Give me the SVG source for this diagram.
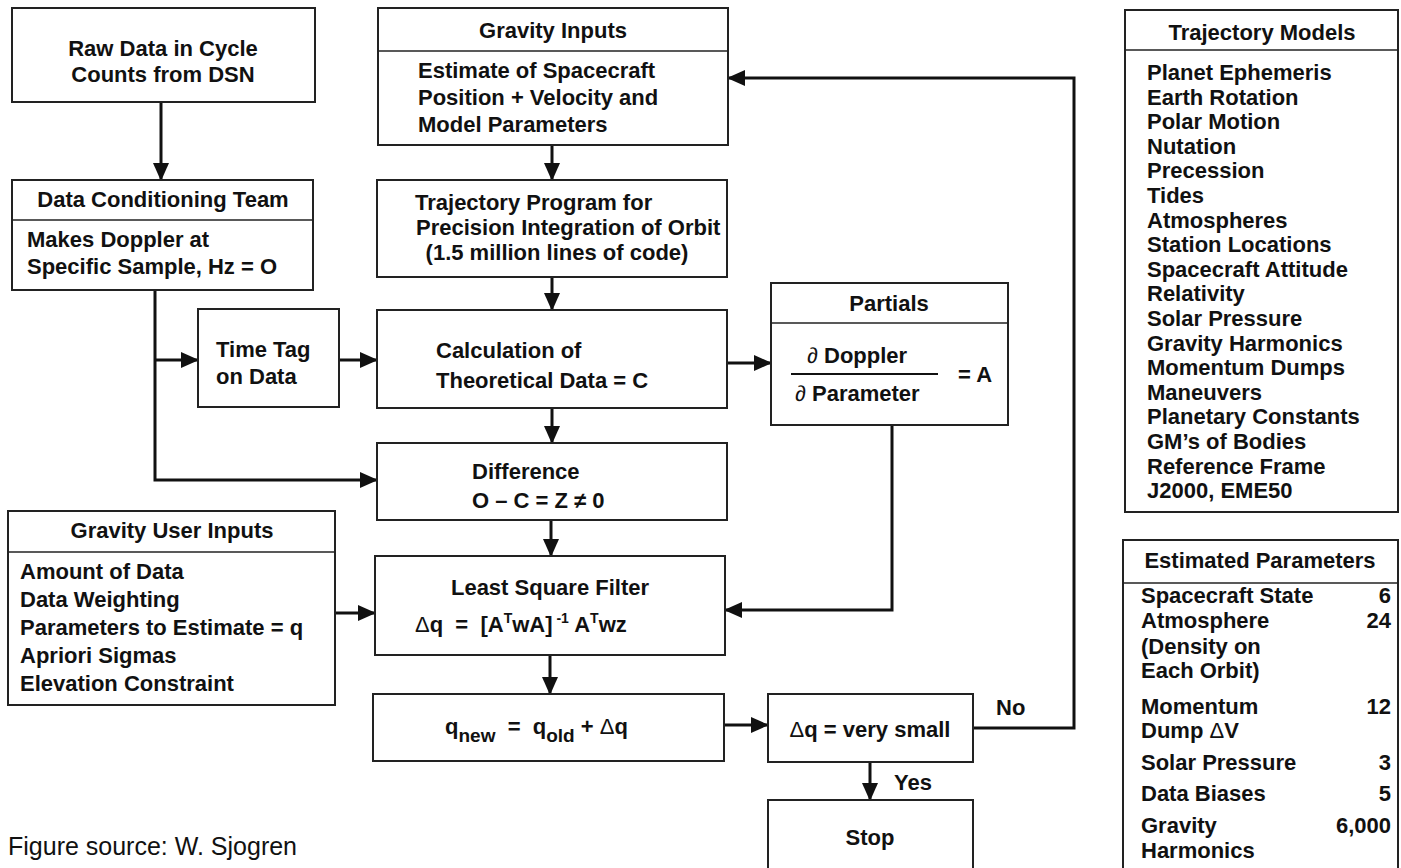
<svg xmlns="http://www.w3.org/2000/svg" width="1401" height="868" viewBox="0 0 1401 868">
<defs>
<marker id="ah" markerUnits="userSpaceOnUse" markerWidth="18" markerHeight="16" refX="17" refY="8" orient="auto">
<path d="M0,0 L18,8 L0,16 z" fill="#111"/>
</marker>
<style>
.box{fill:#fff;stroke:#222;stroke-width:2}
.div{stroke:#222;stroke-width:1.5}
.t{font-family:"Liberation Sans",Arial,Helvetica,sans-serif;font-weight:bold;font-size:22px;fill:#111}
.pre{white-space:pre}
.c{text-anchor:middle}
.r{text-anchor:end}
.cn{fill:none;stroke:#111;stroke-width:3}
.src{font-family:"Liberation Sans",Arial,Helvetica,sans-serif;font-size:25px;fill:#111}
</style>
</defs>
<rect width="1401" height="868" fill="#fff"/>

<g id="connectors">
<line class="cn" x1="161" y1="102" x2="161" y2="180" marker-end="url(#ah)"/>
<line class="cn" x1="552" y1="145" x2="552" y2="180" marker-end="url(#ah)"/>
<line class="cn" x1="552" y1="277" x2="552" y2="310" marker-end="url(#ah)"/>
<line class="cn" x1="552" y1="408" x2="552" y2="443" marker-end="url(#ah)"/>
<line class="cn" x1="551" y1="520" x2="551" y2="556" marker-end="url(#ah)"/>
<line class="cn" x1="550" y1="655" x2="550" y2="694" marker-end="url(#ah)"/>
<line class="cn" x1="724" y1="725" x2="768" y2="725" marker-end="url(#ah)"/>
<line class="cn" x1="870" y1="762" x2="870" y2="800" marker-end="url(#ah)"/>
<path class="cn" d="M155,290 V480 H377" marker-end="url(#ah)"/>
<path class="cn" d="M155,360 H198" marker-end="url(#ah)"/>
<line class="cn" x1="339" y1="360" x2="377" y2="360" marker-end="url(#ah)"/>
<line class="cn" x1="727" y1="363" x2="771" y2="363" marker-end="url(#ah)"/>
<path class="cn" d="M892,425 V610 H725" marker-end="url(#ah)"/>
<line class="cn" x1="335" y1="613" x2="375" y2="613" marker-end="url(#ah)"/>
<path class="cn" d="M973,728 H1074 V78 H728" marker-end="url(#ah)"/>
<text class="t" x="996" y="715">No</text>
<text class="t" x="894" y="790">Yes</text>
</g>

<g id="raw-data">
<rect class="box" x="12" y="8" width="303" height="94"/>
<text class="t c" x="163" y="56">Raw Data in Cycle</text>
<text class="t c" x="163" y="82">Counts from DSN</text>
</g>

<g id="data-conditioning">
<rect class="box" x="12" y="180" width="301" height="110"/>
<line class="div" x1="12" y1="220" x2="313" y2="220"/>
<text class="t c" x="163" y="207">Data Conditioning Team</text>
<text class="t" x="27" y="247">Makes Doppler at</text>
<text class="t" x="27" y="274">Specific Sample, Hz = O</text>
</g>

<g id="gravity-inputs">
<rect class="box" x="378" y="8" width="350" height="137"/>
<line class="div" x1="378" y1="51" x2="728" y2="51"/>
<text class="t c" x="553" y="38">Gravity Inputs</text>
<text class="t" x="418" y="78">Estimate of Spacecraft</text>
<text class="t" x="418" y="105">Position + Velocity and</text>
<text class="t" x="418" y="132">Model Parameters</text>
</g>

<g id="trajectory-program">
<rect class="box" x="377" y="180" width="350" height="97"/>
<text class="t" x="415" y="210">Trajectory Program for</text>
<text class="t" x="416" y="235">Precision Integration of Orbit</text>
<text class="t c" x="557" y="260">(1.5 million lines of code)</text>
</g>

<g id="time-tag">
<rect class="box" x="198" y="309" width="141" height="98"/>
<text class="t" x="216" y="357">Time Tag</text>
<text class="t" x="216" y="384">on Data</text>
</g>

<g id="calculation">
<rect class="box" x="377" y="310" width="350" height="98"/>
<text class="t" x="436" y="358">Calculation of</text>
<text class="t" x="436" y="388">Theoretical Data = C</text>
</g>

<g id="partials">
<rect class="box" x="771" y="283" width="237" height="142"/>
<line class="div" x1="771" y1="323" x2="1008" y2="323"/>
<text class="t c" x="889" y="311">Partials</text>
<text class="t" x="807" y="363"><tspan font-weight="normal">∂</tspan> Doppler</text>
<line x1="791" y1="374" x2="938" y2="374" stroke="#111" stroke-width="2"/>
<text class="t" x="795" y="401"><tspan font-weight="normal">∂</tspan> Parameter</text>
<text class="t" x="958" y="382">= A</text>
</g>

<g id="difference">
<rect class="box" x="377" y="443" width="350" height="77"/>
<text class="t" x="472" y="479">Difference</text>
<text class="t" x="472" y="508">O – C = Z ≠ 0</text>
</g>

<g id="least-square">
<rect class="box" x="375" y="556" width="350" height="99"/>
<text class="t c" x="550" y="595">Least Square Filter</text>
<text class="t pre" x="415" y="632" xml:space="preserve"><tspan font-weight="normal">Δ</tspan>q  =  [A<tspan dy="-9" font-size="14">T</tspan><tspan dy="9">wA]</tspan><tspan dy="-9" font-size="14"> -1</tspan><tspan dy="9"> A</tspan><tspan dy="-9" font-size="14">T</tspan><tspan dy="9">wz</tspan></text>
</g>

<g id="gravity-user-inputs">
<rect class="box" x="8" y="511" width="327" height="194"/>
<line class="div" x1="8" y1="552" x2="335" y2="552"/>
<text class="t c" x="172" y="538">Gravity User Inputs</text>
<text class="t" x="20" y="579">Amount of Data</text>
<text class="t" x="20" y="607">Data Weighting</text>
<text class="t" x="20" y="635">Parameters to Estimate = q</text>
<text class="t" x="20" y="663">Apriori Sigmas</text>
<text class="t" x="20" y="691">Elevation Constraint</text>
</g>

<g id="q-update">
<rect class="box" x="373" y="694" width="351" height="67"/>
<text class="t pre" x="445" y="734" xml:space="preserve">q<tspan dy="8" font-size="19">new</tspan><tspan dy="-8">  =  q</tspan><tspan dy="8" font-size="19">old</tspan><tspan dy="-8"> + <tspan font-weight="normal">Δ</tspan>q</tspan></text>
</g>

<g id="decision">
<rect class="box" x="768" y="694" width="205" height="68"/>
<text class="t c" x="870" y="737"><tspan font-weight="normal">Δ</tspan>q = very small</text>
</g>

<g id="stop">
<rect class="box" x="768" y="800" width="205" height="72"/>
<text class="t c" x="870" y="845">Stop</text>
</g>

<g id="trajectory-models">
<rect class="box" x="1125" y="10" width="273" height="502"/>
<line class="div" x1="1125" y1="50" x2="1398" y2="50"/>
<text class="t c" x="1262" y="40">Trajectory Models</text>
<text class="t" x="1147" y="80">Planet Ephemeris</text>
<text class="t" x="1147" y="104.6">Earth Rotation</text>
<text class="t" x="1147" y="129.2">Polar Motion</text>
<text class="t" x="1147" y="153.8">Nutation</text>
<text class="t" x="1147" y="178.4">Precession</text>
<text class="t" x="1147" y="203">Tides</text>
<text class="t" x="1147" y="227.6">Atmospheres</text>
<text class="t" x="1147" y="252.2">Station Locations</text>
<text class="t" x="1147" y="276.8">Spacecraft Attitude</text>
<text class="t" x="1147" y="301.4">Relativity</text>
<text class="t" x="1147" y="326">Solar Pressure</text>
<text class="t" x="1147" y="350.6">Gravity Harmonics</text>
<text class="t" x="1147" y="375.2">Momentum Dumps</text>
<text class="t" x="1147" y="399.8">Maneuvers</text>
<text class="t" x="1147" y="424.4">Planetary Constants</text>
<text class="t" x="1147" y="449">GM’s of Bodies</text>
<text class="t" x="1147" y="473.6">Reference Frame</text>
<text class="t" x="1147" y="498.2">J2000, EME50</text>
</g>

<g id="estimated-parameters">
<rect class="box" x="1123" y="540" width="275" height="332"/>
<line class="div" x1="1123" y1="583" x2="1398" y2="583"/>
<text class="t c" x="1260" y="568">Estimated Parameters</text>
<text class="t" x="1141" y="603">Spacecraft State</text>
<text class="t r" x="1391" y="603">6</text>
<text class="t" x="1141" y="628">Atmosphere</text>
<text class="t r" x="1391" y="628">24</text>
<text class="t" x="1141" y="654">(Density on</text>
<text class="t" x="1141" y="678">Each Orbit)</text>
<text class="t" x="1141" y="714">Momentum</text>
<text class="t r" x="1391" y="714">12</text>
<text class="t" x="1141" y="738">Dump <tspan font-weight="normal">Δ</tspan>V</text>
<text class="t" x="1141" y="770">Solar Pressure</text>
<text class="t r" x="1391" y="770">3</text>
<text class="t" x="1141" y="801">Data Biases</text>
<text class="t r" x="1391" y="801">5</text>
<text class="t" x="1141" y="833">Gravity</text>
<text class="t r" x="1391" y="833">6,000</text>
<text class="t" x="1141" y="858">Harmonics</text>
</g>

<text class="src" x="8" y="855">Figure source: W. Sjogren</text>
</svg>
